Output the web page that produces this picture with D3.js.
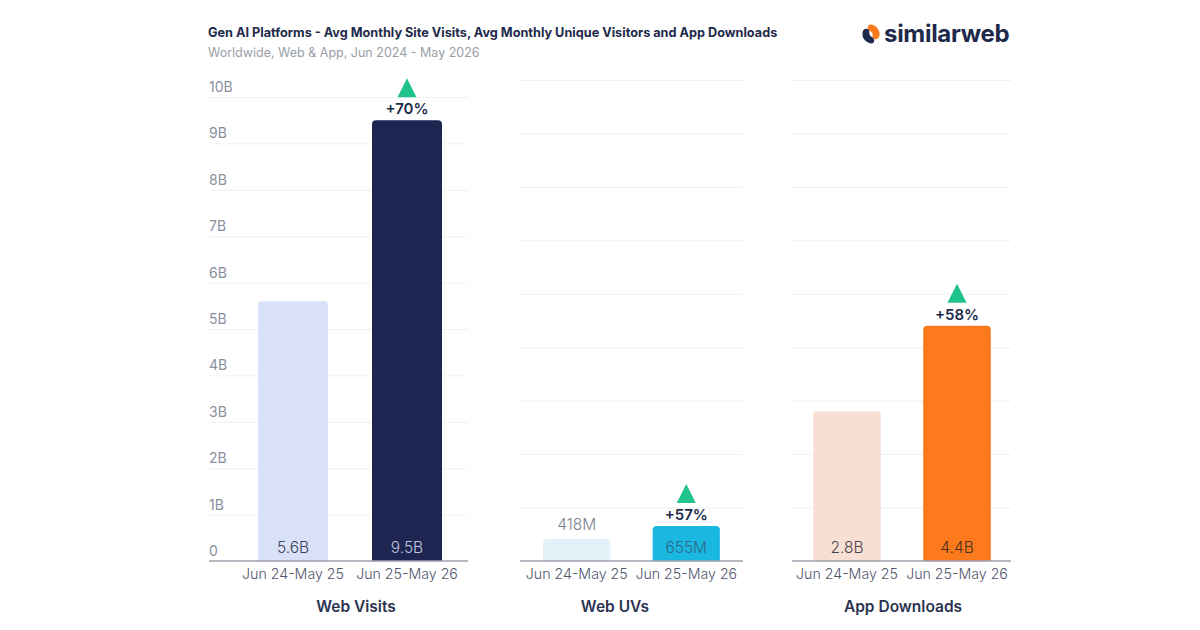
<!DOCTYPE html>
<html>
<head>
<meta charset="utf-8">
<script src="https://cdn.jsdelivr.net/npm/d3@7"></script>
<style>
  body { margin: 0; background: #fff; }
  svg { display: block; font-family: Inter, "Noto Sans", sans-serif; }
</style>
</head>
<body>
<div id="vis-container"></div>
<script>
// ------------------------------ DATA ------------------------------ //
const periods = ["Jun 24-May 25", "Jun 25-May 26"];
const panelTitles = ["Web Visits", "Web UVs", "App Downloads"];
// values in billions
const webVisits = [5.6, 9.5];
const webUVs = [0.418, 0.655];
const appDownloads = [2.8, 4.4];
const valueLabels = [["5.6B", "9.5B"], ["418M", "655M"], ["2.8B", "4.4B"]];
const changeLabels = ["+70%", "+57%", "+58%"];
const visitTicks = [0, 1, 2, 3, 4, 5, 6, 7, 8, 9, 10];
const visitTickLabels = ["0", "1B", "2B", "3B", "4B", "5B", "6B", "7B", "8B", "9B", "10B"];
const otherTicks = [0, 1, 2, 3, 4, 5, 6, 7, 8, 9];

// ------------------------------ SET UP ------------------------------ //
const width = 1200;
const height = 630;
const baseY = 561;

const svg = d3.select("#vis-container")
  .append("svg")
  .attr("width", width)
  .attr("height", height)
  .attr("viewBox", [0, 0, width, height]);

// panel layout: grid extent, band range for bars, y domain / top pixel
const panels = [
  { values: webVisits, gridX: [209, 468], band: [236, 464], yMax: 10, yTop: 97, ticks: visitTicks, titleX: 356,
    colors: ["#d9e1f8", "#1e2551"], textColors: ["#3d4256", "#c3c8de"] },
  { values: webUVs, gridX: [520, 743], band: [522, 741], yMax: 9, yTop: 80, ticks: otherTicks, titleX: 615,
    colors: ["#e3f1f9", "#1ab7e0"], textColors: ["#7b7f8c", "#2f6a88"] },
  { values: appDownloads, gridX: [792, 1011], band: [792, 1012], yMax: 9, yTop: 80, ticks: otherTicks, titleX: 903,
    colors: ["#f8dfd4", "#fc7a1c"], textColors: ["#4a4650", "#4a3020"] }
];

// ------------------------------ HEADER ------------------------------ //
svg.append("text")
  .attr("x", 208)
  .attr("y", 37)
  .attr("font-size", "12.7px")
  .attr("font-weight", 700)
  .attr("fill", "#1e2a4a")
  .text("Gen AI Platforms - Avg Monthly Site Visits, Avg Monthly Unique Visitors and App Downloads");

svg.append("text")
  .attr("x", 208)
  .attr("y", 57)
  .attr("font-size", "12.5px")
  .attr("fill", "#9a9ea8")
  .text("Worldwide, Web & App, Jun 2024 - May 2026");

// similarweb logo
const logo = svg.append("g").attr("transform", "translate(871,34)");
logo.append("path")
  .attr("d", "M-1,-9.5 A9.5,9.5 0 0 1 8.5,1 C8.5,5 4,6.5 2,4 C1,2 3,-1 -1,-3 C-4,-5 -4,-8.5 -1,-9.5 Z")
  .attr("fill", "#fc7a1c");
logo.append("path")
  .attr("d", "M1,9.5 A9.5,9.5 0 0 1 -8.5,-1 C-8.5,-5 -4,-6.5 -2,-4 C-1,-2 -3,1 1,3 C4,5 4,8.5 1,9.5 Z")
  .attr("fill", "#1e2a4a");
svg.append("text")
  .attr("x", 884)
  .attr("y", 42)
  .attr("font-size", "24px")
  .attr("font-weight", 700)
  .attr("letter-spacing", "-0.3px")
  .attr("fill", "#1e2a4a")
  .text("similarweb");

// ------------------------------ PANELS ------------------------------ //
panels.forEach((p, i) => {
  const g = svg.append("g");

  const x = d3.scaleBand()
    .domain(periods)
    .range(p.band)
    .paddingInner(0.386)
    .paddingOuter(0.193);

  const y = d3.scaleLinear()
    .domain([0, p.yMax])
    .range([baseY, p.yTop]);

  // gridlines
  g.append("g")
    .attr("transform", `translate(${p.gridX[0]},0)`)
    .call(d3.axisRight(y).tickValues(p.ticks.slice(1)).tickSize(p.gridX[1] - p.gridX[0]).tickFormat(""))
    .call((a) => a.select(".domain").remove())
    .call((a) => a.selectAll(".tick line").attr("stroke", "#eef0f3").attr("stroke-width", 1));

  // y tick labels only on the first panel
  if (i === 0) {
    g.selectAll(".ylab")
      .data(p.ticks)
      .enter()
      .append("text")
      .attr("class", "ylab")
      .attr("x", p.gridX[0])
      .attr("y", (d) => y(d) - 5)
      .attr("font-size", "14px")
      .attr("fill", "#8a8fa0")
      .text((d, j) => visitTickLabels[j]);
  }

  // bars with rounded top corners
  const r = 4;
  g.selectAll(".bar")
    .data(p.values)
    .enter()
    .append("path")
    .attr("class", "bar")
    .attr("fill", (d, j) => p.colors[j])
    .attr("d", (d, j) => {
      const x0 = x(periods[j]), x1 = x0 + x.bandwidth();
      const yt = y(d), yb = y(0);
      return `M${x0},${yb} L${x0},${yt + r} Q${x0},${yt} ${x0 + r},${yt} L${x1 - r},${yt} Q${x1},${yt} ${x1},${yt + r} L${x1},${yb} Z`;
    });

  // value labels: inside the bar when tall enough, otherwise above
  g.selectAll(".val")
    .data(p.values)
    .enter()
    .append("text")
    .attr("class", "val")
    .attr("x", (d, j) => x(periods[j]) + x.bandwidth() / 2)
    .attr("y", (d) => (y(0) - y(d) > 32) ? baseY - 8 : y(d) - 9)
    .attr("text-anchor", "middle")
    .attr("font-size", "15.5px")
    .attr("font-weight", 300)
    .attr("fill", (d, j) => p.textColors[j])
    .text((d, j) => valueLabels[i][j]);

  // baseline
  g.append("line")
    .attr("x1", p.gridX[0])
    .attr("x2", p.gridX[1])
    .attr("y1", baseY)
    .attr("y2", baseY)
    .attr("stroke", "#9aa0ad")
    .attr("stroke-width", 1.5);

  // x axis labels
  g.append("g")
    .attr("transform", `translate(0,${baseY})`)
    .call(d3.axisBottom(x).tickSize(0).tickPadding(8))
    .call((a) => a.select(".domain").remove())
    .call((a) => a.selectAll("text")
      .attr("font-size", "14.2px")
      .attr("font-weight", 300)
      .attr("font-family", "Inter, sans-serif")
      .attr("fill", "#4f566d"));

  // panel title
  g.append("text")
    .attr("x", p.titleX)
    .attr("y", 612)
    .attr("text-anchor", "middle")
    .attr("font-size", "15.5px")
    .attr("font-weight", 600)
    .attr("fill", "#2b3350")
    .text(panelTitles[i]);

  // growth marker over the second bar
  const cx = x(periods[1]) + x.bandwidth() / 2;
  const top = y(p.values[1]);
  g.append("path")
    .attr("d", `M${cx - 9.5},${top - 23} L${cx + 9.5},${top - 23} L${cx},${top - 42} Z`)
    .attr("fill", "#20c28d");
  g.append("text")
    .attr("x", cx)
    .attr("y", top - 6)
    .attr("text-anchor", "middle")
    .attr("font-size", "15px")
    .attr("font-weight", 600)
    .attr("fill", "#1e2a4a")
    .text(changeLabels[i]);
});
</script>
</body>
</html>
